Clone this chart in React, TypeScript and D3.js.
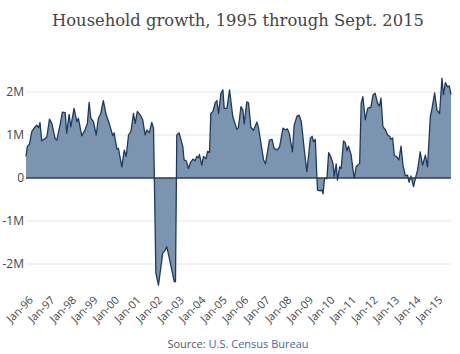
import React from "react";
import * as d3 from "d3";

// decimal years (time) and household growth in millions
const t = [1995.81,1995.87,1995.97,1996.08,1996.23,1996.31,1996.40,1996.46,1996.54,1996.70,1996.78,1996.90,1997.01,1997.16,1997.24,1997.39,1997.50,1997.63,1997.70,1997.81,1997.89,1998.04,1998.17,1998.24,1998.40,1998.55,1998.66,1998.74,1998.82,1998.94,1999.07,1999.17,1999.28,1999.40,1999.53,1999.68,1999.84,1999.90,2000.03,2000.10,2000.26,2000.37,2000.46,2000.57,2000.68,2000.80,2000.88,2000.98,2001.11,2001.23,2001.34,2001.42,2001.53,2001.65,2001.73,2001.84,2001.96,2002.16,2002.22,2002.35,2002.50,2002.69,2002.75,2002.81,2002.92,2003.09,2003.15,2003.25,2003.35,2003.46,2003.56,2003.66,2003.74,2003.82,2003.86,2003.97,2004.05,2004.17,2004.24,2004.33,2004.39,2004.49,2004.59,2004.67,2004.75,2004.86,2004.95,2005.01,2005.14,2005.26,2005.41,2005.60,2005.67,2005.79,2005.88,2005.94,2006.06,2006.14,2006.25,2006.37,2006.53,2006.60,2006.84,2006.93,2007.11,2007.23,2007.33,2007.46,2007.58,2007.74,2007.84,2007.95,2008.04,2008.18,2008.26,2008.39,2008.49,2008.59,2008.73,2008.85,2009.01,2009.09,2009.16,2009.24,2009.34,2009.47,2009.55,2009.60,2009.67,2009.78,2009.86,2009.97,2010.06,2010.12,2010.21,2010.27,2010.37,2010.44,2010.55,2010.63,2010.71,2010.78,2010.90,2010.99,2011.05,2011.14,2011.30,2011.37,2011.45,2011.56,2011.67,2011.76,2011.82,2011.92,2012.02,2012.13,2012.22,2012.29,2012.38,2012.49,2012.60,2012.69,2012.75,2012.83,2012.91,2013.03,2013.12,2013.22,2013.31,2013.42,2013.52,2013.60,2013.68,2013.80,2013.89,2013.99,2014.11,2014.22,2014.35,2014.45,2014.58,2014.66,2014.78,2014.89,2015.01,2015.12,2015.19,2015.28,2015.38,2015.46,2015.54];
const growth = [0.50,0.73,0.79,1.08,1.19,1.23,1.17,1.29,0.87,0.92,0.96,1.37,1.27,0.92,0.88,1.23,1.53,1.52,1.04,1.48,1.19,1.62,1.31,1.39,0.98,1.12,1.27,1.76,1.39,1.31,1.00,1.39,1.50,1.80,1.47,1.26,0.98,1.05,0.67,0.69,0.26,0.65,0.50,1.00,1.08,1.50,1.27,1.55,1.47,1.35,1.00,1.12,1.05,1.29,1.16,-2.22,-2.49,-1.74,-1.72,-1.60,-1.95,-2.41,-2.41,1.00,1.05,0.73,0.42,0.40,0.22,0.37,0.44,0.40,0.50,0.47,0.55,0.30,0.50,0.45,0.62,0.59,1.50,1.55,1.74,1.80,1.50,1.97,2.05,1.62,1.62,2.05,1.43,1.13,1.17,1.66,1.58,1.26,1.77,1.75,1.18,1.11,1.30,1.18,0.42,0.33,0.88,0.90,0.69,0.65,0.72,1.16,1.12,1.14,1.02,0.61,1.23,1.44,1.46,1.31,0.65,0.15,0.92,0.97,0.84,0.90,-0.28,-0.30,-0.28,-0.37,0.00,-0.02,0.59,0.48,0.34,0.04,0.33,-0.05,0.26,0.22,0.86,0.82,0.63,0.74,0.55,0.19,0.00,0.27,0.34,1.74,1.89,1.35,1.62,1.64,1.64,1.93,1.97,1.74,1.67,1.86,1.19,1.13,1.00,0.97,0.90,0.93,0.53,0.49,0.42,0.74,0.30,0.05,0.07,-0.10,0.05,-0.20,0.00,0.19,0.61,0.30,0.53,0.26,1.43,1.62,1.98,1.58,1.50,2.32,1.94,2.22,2.12,2.14,1.94];

const yTicks = [2, 1, 0, -1, -2];
const yTickLabels = ["2M", "1M", "0", "-1M", "-2M"];
const xTickYears = d3.range(1996, 2016);
const xTickLabels = xTickYears.map((y) => "Jan-" + String(y).slice(2));

const W = 460, H = 354;

export default function App() {
  const x = d3.scaleLinear().domain([t[0], t[t.length - 1]]).range([26, 451]);
  const y = d3.scaleLinear().domain([-2.5, 2.5]).range([285.5, 70.5]);
  const data = t.map((d, i) => ({ t: d, v: growth[i] }));
  const area = d3.area<any>().x((d) => x(d.t)).y0(y(0)).y1((d) => y(d.v));
  const line = d3.line<any>().x((d) => x(d.t)).y((d) => y(d.v));
  const sans = "'Open Sans', 'Noto Sans', sans-serif";
  return (
    <svg width={W} height={H} style={{ position: "absolute", left: 0, top: 0, background: "#fff" }}>
      <text x={238} y={26} textAnchor="middle" fontFamily="'DejaVu Serif', serif" fontSize={17} fill="#444" textLength={372} lengthAdjust="spacingAndGlyphs">
        Household growth, 1995 through Sept. 2015
      </text>
      {yTicks.filter((v) => v !== 0).map((v) => (
        <line key={v} x1={26} x2={451} y1={y(v)} y2={y(v)} stroke="#e6e6e6" strokeWidth={1} />
      ))}
      <path d={area(data) || ""} fill="#7b94b0" />
      <path d={line(data) || ""} fill="none" stroke="#1d3a5e" strokeWidth={1.3} strokeLinejoin="round" />
      <line x1={26} x2={451} y1={y(0)} y2={y(0)} stroke="#2b3d52" strokeWidth={1.5} />
      {yTicks.map((v, i) => (
        <text key={v} x={24} y={y(v)} dy="0.36em" textAnchor="end" fontFamily={sans} fontSize={12} fill="#444">
          {yTickLabels[i]}
        </text>
      ))}
      {xTickYears.map((yr, i) => (
        <text key={yr} transform={`translate(${x(yr) + 1},${298}) rotate(-45)`} textAnchor="end" dy="0.35em" fontFamily={sans} fontSize={11} fill="#444">
          {xTickLabels[i]}
        </text>
      ))}
      <text x={238} y={348} textAnchor="middle" fontFamily={sans} fontSize={11}>
        <tspan fill="#555">Source: </tspan>
        <tspan fill="#3e6b9f">U.S. Census Bureau</tspan>
      </text>
    </svg>
  );
}
